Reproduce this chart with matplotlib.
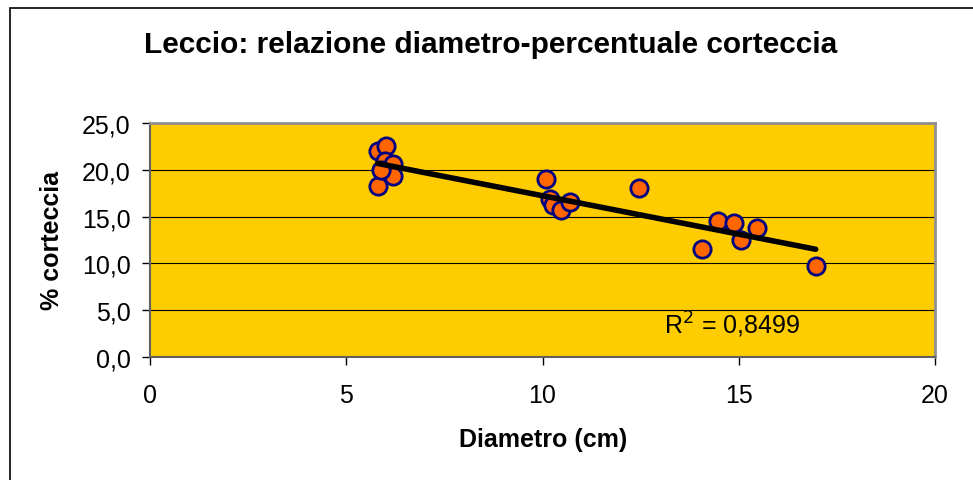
import numpy as np
import matplotlib.pyplot as plt
from matplotlib.patches import Rectangle
from matplotlib.ticker import FuncFormatter

plt.rcParams['font.family'] = ['Liberation Sans', 'DejaVu Sans']

# diametro (cm) e percentuale di corteccia
diametro = [5.80, 6.00, 5.98, 6.20, 5.90, 6.18, 5.80, 5.88,
            10.08, 10.18, 10.26, 10.48, 10.69, 12.47,
            14.46, 14.87, 15.46, 15.07, 14.06, 16.96]
corteccia = [22.0, 22.5, 20.9, 20.6, 19.9, 19.3, 18.3, 20.0,
             19.0, 16.9, 16.2, 15.7, 16.6, 18.1,
             14.5, 14.3, 13.8, 12.5, 11.5, 9.7]
r2_label = "R$^2$ = 0,8499"
titolo = "Leccio: relazione diametro-percentuale corteccia"

fig = plt.figure(figsize=(9.73, 4.81), dpi=100)
ax = fig.add_axes([150 / 973, 1 - 358 / 481, (935 - 150) / 973, (358 - 124) / 481])

# cornice esterna del grafico
fig.patches.append(Rectangle((10 / 973, -0.1), 1.2, 1 - 9 / 481 + 0.1,
                             transform=fig.transFigure, fill=False,
                             edgecolor='black', linewidth=1.2))

ax.set_facecolor('#FFCC00')
ax.set_xlim(0, 20)
ax.set_ylim(0, 25)
ax.set_xticks([0, 5, 10, 15, 20])
ax.set_yticks([0, 5, 10, 15, 20, 25])
ax.yaxis.grid(True, color='black', linewidth=0.8)
ax.set_axisbelow(True)

for s in ['top', 'right']:
    ax.spines[s].set_color('#909090')
    ax.spines[s].set_linewidth(2)
for s in ['left', 'bottom']:
    ax.spines[s].set_color('#606060')
    ax.spines[s].set_linewidth(1.5)

ax.yaxis.set_major_formatter(FuncFormatter(lambda v, p: f"{v:.1f}".replace('.', ',')))
ax.tick_params(axis='both', direction='out', length=6, width=1, labelsize=18)
ax.tick_params(axis='x', pad=13)
ax.tick_params(axis='y', pad=8)

ax.scatter(diametro, corteccia, s=155, color='#FF6600', edgecolors='#000080',
           linewidths=2, zorder=3)

# linea di tendenza lineare
coef = np.polyfit(diametro, corteccia, 1)
xs = np.array([min(diametro), max(diametro)])
ax.plot(xs, np.polyval(coef, xs), color='black', linewidth=4,
        solid_capstyle='round', zorder=4)

ax.text(13.1, 3.5, r2_label, fontsize=18, va='center', ha='left')

ax.set_xlabel("Diametro (cm)", fontsize=18, fontweight='bold')
ax.set_ylabel("% corteccia", fontsize=18, fontweight='bold')
ax.xaxis.set_label_coords((543 - 150) / 785, (358 - 440) / 234)
ax.yaxis.set_label_coords((52 - 150) / 785, (358 - 241) / 234)
ax.xaxis.label.set_va('center')
ax.yaxis.label.set_va('center')

fig.text(491 / 973, 1 - 45 / 481, titolo, fontsize=21.5, fontweight='bold',
         ha='center', va='center')

fig.savefig("out.png", dpi=100)
